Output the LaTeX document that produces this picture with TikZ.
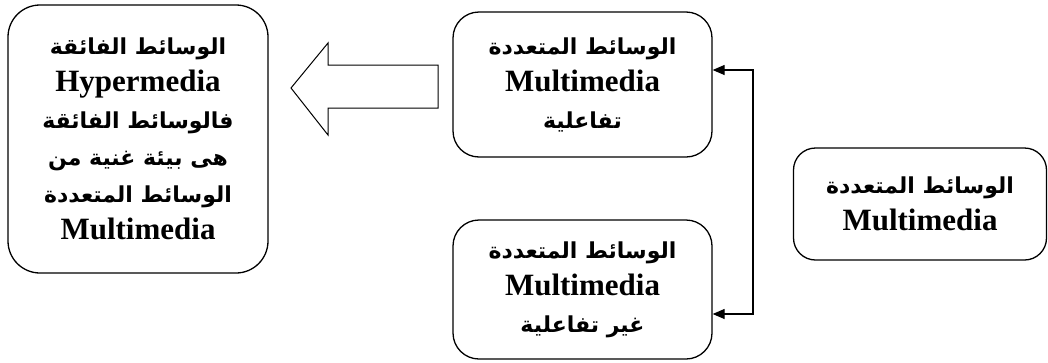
\documentclass[tikz,border=0pt]{standalone}
\usepackage{fontspec}
\usetikzlibrary{arrows.meta}
\TeXXeTstate=1
\newfontfamily\arabicfont[Script=Arabic]{DejaVu Sans}
\newfontfamily\latinfont{Liberation Serif}
\newcommand{\artxt}[1]{{\arabicfont\bfseries\fontsize{22}{37}\selectfont\beginR #1\endR}}
\newcommand{\lattxt}[1]{{\latinfont\bfseries\fontsize{31}{37}\selectfont #1}}

\begin{document}
\begin{tikzpicture}[x=1pt, y=-1pt,
  mediabox/.style={draw, line width=1.3pt, rounded corners=26pt, align=center,
    inner sep=0pt, font=\fontsize{22}{37}\selectfont},
  linkline/.style={line width=1.3pt, {Triangle[length=12pt,width=10pt]}-{Triangle[length=12pt,width=10pt]}}]
\useasboundingbox (0,0) rectangle (1048,362);

\node[mediabox, minimum width=260pt, minimum height=268pt, rounded corners=32pt] (hyper) at (138,139)
  {\artxt{الوسائط الفائقة}\\ \lattxt{Hypermedia}\\ \artxt{فالوسائط الفائقة}\\
   \artxt{هى بيئة غنية من}\\ \artxt{الوسائط المتعددة}\\ \lattxt{Multimedia}};
\node[mediabox, minimum width=259pt, minimum height=145pt] (inter) at (582.5,84.5)
  {\artxt{الوسائط المتعددة}\\ \lattxt{Multimedia}\\ \artxt{تفاعلية}};
\node[mediabox, minimum width=259pt, minimum height=139pt] (noninter) at (582.5,289.5)
  {\artxt{الوسائط المتعددة}\\ \lattxt{Multimedia}\\ \artxt{غير تفاعلية}};
\node[mediabox, minimum width=253pt, minimum height=112pt, rounded corners=22pt] (multi) at (920,204)
  {\artxt{الوسائط المتعددة}\\ \lattxt{Multimedia}};

% hollow arrow
\draw[line width=1pt] (291,88) -- (328,43) -- (328,65) -- (438,65) -- (438,108)
  -- (328,108) -- (328,135) -- cycle;

\coordinate (bendA) at (753,70);
\coordinate (bendB) at (753,314);
\draw[linkline] (inter.east |- bendA) -- (bendA) -- (bendB) -- (noninter.east |- bendB);
\end{tikzpicture}
\end{document}
